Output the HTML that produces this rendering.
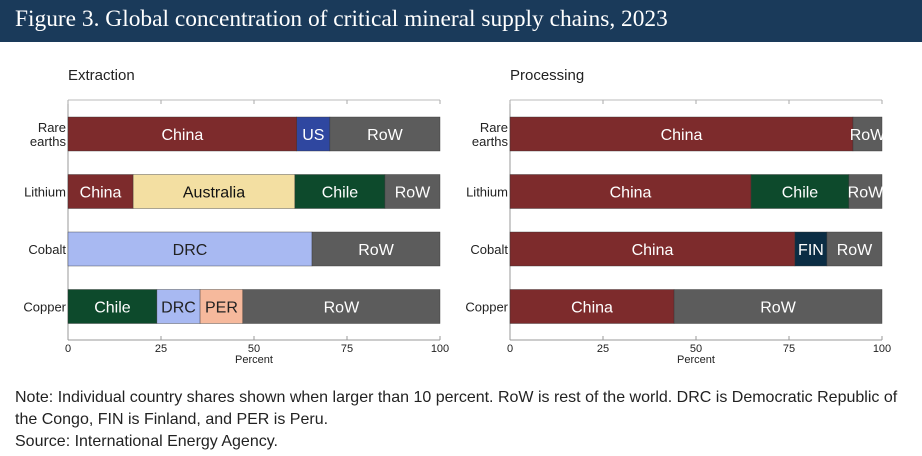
<!DOCTYPE html>
<html><head><meta charset="utf-8"><style>
body{margin:0;width:922px;height:456px;background:#fff;font-family:"Liberation Sans",sans-serif;overflow:hidden}
#hdr{position:absolute;left:0;top:0;width:922px;height:42px;background:#1a3a5a;color:#fff;font-family:"Liberation Serif",serif;font-size:23.4px;line-height:38px;padding-left:15px;box-sizing:border-box;white-space:nowrap}
#note{position:absolute;left:15px;top:387px;font-size:16px;color:#222;line-height:22px;width:905px}
</style></head><body>
<div id="hdr">Figure 3. Global concentration of critical mineral supply chains, 2023</div>
<svg id="chart" width="922" height="380" style="position:absolute;left:0;top:0"></svg>
<div id="note">Note: Individual country shares shown when larger than 10 percent. RoW is rest of the world. DRC is Democratic Republic of the Congo, FIN is Finland, and PER is Peru.<br>Source: International Energy Agency.</div>
<script>
const minerals=["Rare earths","Lithium","Cobalt","Copper"];
const ticks=[0,25,50,75,100];
const extLabels=[["China","US","RoW"],["China","Australia","Chile","RoW"],["DRC","RoW"],["Chile","DRC","PER","RoW"]];
const extValues=[[61.5,8.9,29.6],[17.5,43.5,24.2,14.8],[65.6,34.4],[23.9,11.6,11.5,53]];
const procLabels=[["China","RoW"],["China","Chile","RoW"],["China","FIN","RoW"],["China","RoW"]];
const procValues=[[92.2,7.8],[64.8,26.3,8.9],[76.6,8.6,14.8],[44.1,55.9]];
const colors={China:"#7d2b2c",US:"#2f47a0",RoW:"#5c5c5c",Australia:"#f3dfa2",Chile:"#0d4a2c",DRC:"#a8b9f2",PER:"#f6b99c",FIN:"#0b2d44"};
const textCol={Australia:"#111",DRC:"#222",PER:"#222"};
const svg=document.getElementById('chart');
const NS="http://www.w3.org/2000/svg";
function mk(t,a){const e=document.createElementNS(NS,t);for(const k in a)e.setAttribute(k,a[k]);svg.appendChild(e);return e;}
function panel(x0,title,labels,values,key){
  const x=v=>x0+v*3.72;
  const y=i=>117+i*57.5;
  let t=mk('text',{x:x0,y:80,'font-size':15,fill:'#222'});t.textContent=title;
  
  
  mk('line',{x1:x0,y1:100,x2:x(100),y2:100,stroke:'#bbb','stroke-width':1});
  mk('line',{x1:x0,y1:100,x2:x0,y2:340,stroke:'#999','stroke-width':1});
  mk('line',{x1:x0,y1:340,x2:x(100),y2:340,stroke:'#999','stroke-width':1});
  ticks.forEach(v=>{
    mk('line',{x1:x(v),y1:100,x2:x(v),y2:104,stroke:'#aaa'});
    mk('line',{x1:x(v),y1:336,x2:x(v),y2:340,stroke:'#999'});
    const tl=mk('text',{x:x(v),y:352,'font-size':11,'text-anchor':'middle',fill:'#222'});tl.textContent=v;
    
    
  });
  const xt=mk('text',{x:x(50),y:363,'font-size':11,'text-anchor':'middle',fill:'#222'});xt.textContent="Percent";
  
  
  minerals.forEach((m,i)=>{
    const parts=m.split(' ');
    parts.forEach((p,j)=>{
      const ml=mk('text',{x:x0-2,y:y(i)+17+5+(parts.length>1?(j-0.5)*14:0),'font-size':13,'text-anchor':'end',fill:'#222'});ml.textContent=p;
      
      
    });
    let acc=0;
    values[i].forEach((v,k)=>{
      const lab=labels[i][k];
      const r=mk('rect',{x:x(acc),y:y(i),width:x(acc+v)-x(acc),height:34,fill:colors[lab],stroke:'#333','stroke-width':0.4});
      
      
      const tx=mk('text',{x:(x(acc)+x(acc+v))/2,y:y(i)+23,'font-size':16,'text-anchor':'middle',fill:textCol[lab]||'#fff'});tx.textContent=lab;
      
      
      acc+=v;
    });
  });
}
panel(68,"Extraction",extLabels,extValues,'extraction');
panel(510,"Processing",procLabels,procValues,'processing');
</script>
</body></html>
